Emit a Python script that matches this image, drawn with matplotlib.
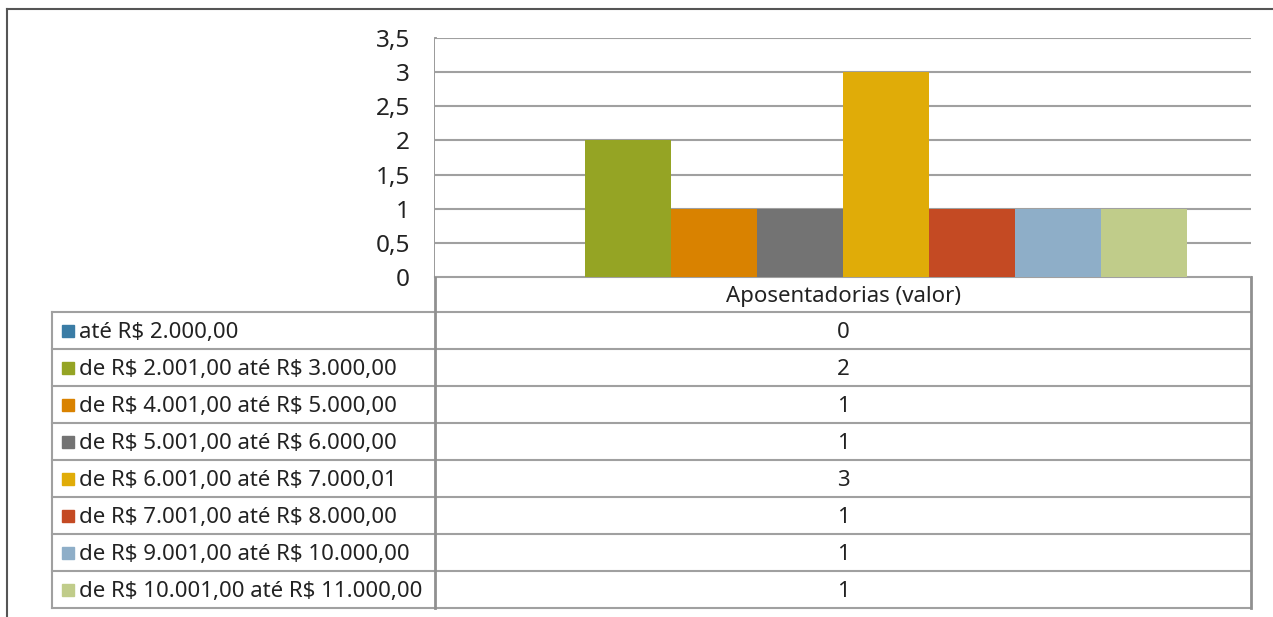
import matplotlib
matplotlib.use("Agg")
import matplotlib.pyplot as plt
from matplotlib.lines import Line2D
from matplotlib.patches import Rectangle

plt.rcParams['font.family'] = ['Noto Sans', 'DejaVu Sans']
plt.rcParams['text.parse_math'] = False

# ---- data ----
category = "Aposentadorias (valor)"
series_labels = [
    "até R$ 2.000,00",
    "de R$ 2.001,00 até R$ 3.000,00",
    "de R$ 4.001,00 até R$ 5.000,00",
    "de R$ 5.001,00 até R$ 6.000,00",
    "de R$ 6.001,00 até R$ 7.000,01",
    "de R$ 7.001,00 até R$ 8.000,00",
    "de R$ 9.001,00 até R$ 10.000,00",
    "de R$ 10.001,00 até R$ 11.000,00",
]
values = [0, 2, 1, 1, 3, 1, 1, 1]
colors = ["#3A7CA5", "#95A424", "#D98200", "#737373",
          "#E0AC08", "#C44A23", "#8EAEC8", "#C0CC8A"]
yticks = [0, 0.5, 1, 1.5, 2, 2.5, 3, 3.5]
ytick_labels = ["0", "0,5", "1", "1,5", "2", "2,5", "3", "3,5"]

W, H = 1273, 617
fig = plt.figure(figsize=(W / 100, H / 100), dpi=100)

def fx(px):
    return px / W

def fy(py):
    return 1 - py / H

# plot area
pl, pr, pt, pb = 435, 1251, 38, 277
ax = fig.add_axes([fx(pl), fy(pb), fx(pr - pl), (pb - pt) / H])
n = len(values)
gap = 64 / 816
bw = (1 - 2 * gap) / n
for i, (v, c) in enumerate(zip(values, colors)):
    ax.bar(-0.5 + gap + bw * (i + 0.5), v, width=bw, color=c, zorder=3)
ax.set_xlim(-0.5, 0.5)
ax.set_ylim(0, 3.5)
ax.set_yticks(yticks)
ax.set_yticklabels(ytick_labels, fontsize=17.5, color="#222222")
ax.tick_params(axis='y', length=0, pad=18)
ax.set_xticks([])
ax.yaxis.grid(True, color="#A0A0A0", lw=1.5, zorder=0)
for s in ax.spines.values():
    s.set_visible(False)

# table area (pixel coordinates for layout)
tax = fig.add_axes([0, 0, 1, 1], zorder=-1)
tax.set_xlim(0, W)
tax.set_ylim(H, 0)
tax.axis('off')
gc = "#A0A0A0"
row_h = 37
first_row = 312
tl = 52
fs = 16
dy = 2
# header
tax.text((pl + pr) / 2, (pb + first_row) / 2 + dy, category, ha='center', va='center',
         fontsize=fs, color="#222222")
tax.add_line(Line2D([pl, pr], [pb, pb], color=gc, lw=1.5))
for i, (lab, v, c) in enumerate(zip(series_labels, values, colors)):
    y0 = first_row + i * row_h
    yc = y0 + row_h / 2
    tax.add_line(Line2D([tl, pr], [y0, y0], color=gc, lw=1.5))
    tax.add_patch(Rectangle((62, yc - 6), 12, 12, color=c))
    tax.text(79, yc + dy, lab, ha='left', va='center', fontsize=fs, color="#222222")
    tax.text((pl + pr) / 2, yc + dy, str(v), ha='center', va='center',
             fontsize=fs, color="#222222")
bottom = first_row + n * row_h
tax.add_line(Line2D([tl, pr], [bottom, bottom], color=gc, lw=1.5))
tax.add_line(Line2D([tl, tl], [first_row, bottom], color=gc, lw=1.5))
tax.add_line(Line2D([pl, pl], [pt, bottom], color="#909090", lw=2))
tax.add_line(Line2D([pr, pr], [pb, bottom], color="#909090", lw=2))

# outer frame
tax.add_line(Line2D([7, W], [9, 9], color="#555555", lw=1.5))
tax.add_line(Line2D([7, 7], [9, H], color="#555555", lw=1.5))

fig.savefig("out.png", dpi=100)
